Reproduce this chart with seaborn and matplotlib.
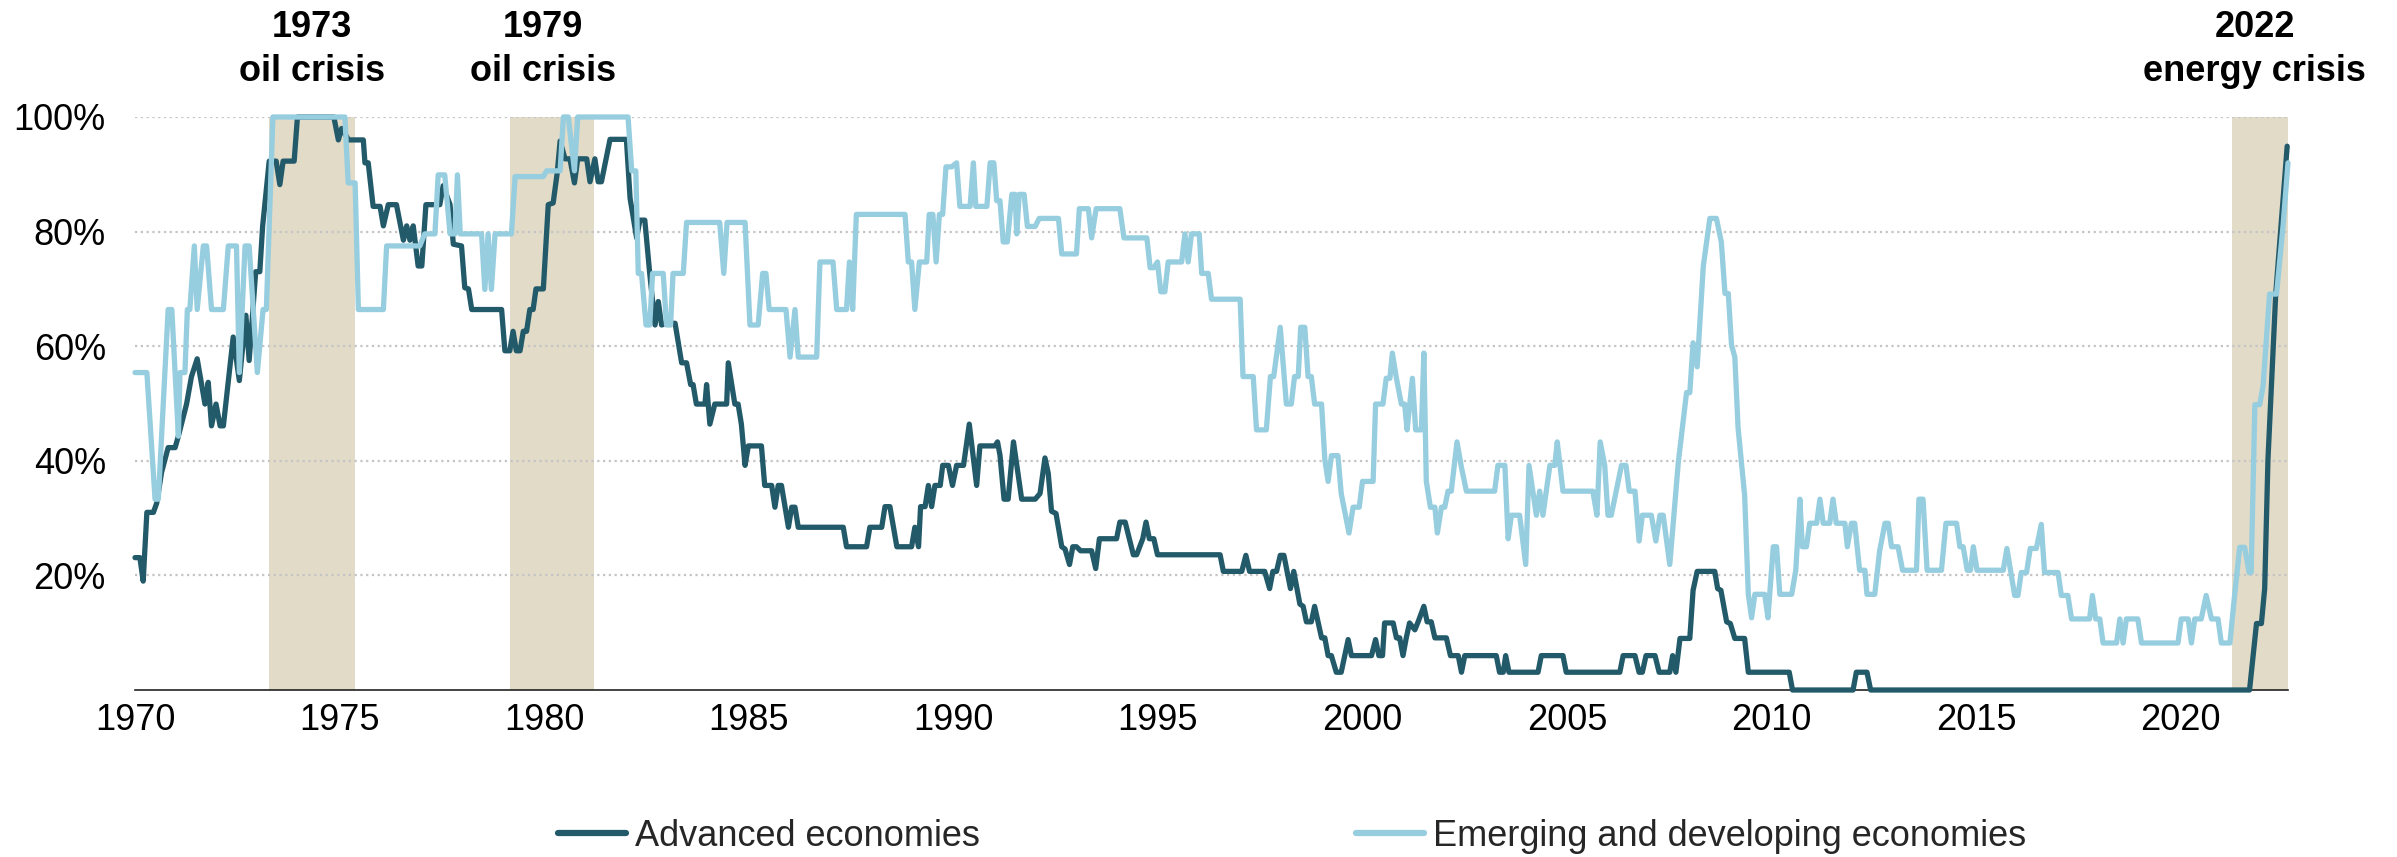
import matplotlib
matplotlib.use("Agg")
import matplotlib.pyplot as plt
import matplotlib.transforms as mtransforms
from matplotlib.lines import Line2D
import numpy as np
import pandas as pd
import seaborn as sns

# ---------------- data ----------------
adv_year = [1970.00, 1970.12, 1970.20, 1970.29, 1970.45, 1970.53, 1970.65, 1970.81, 1970.98, 1971.06,
            1971.26, 1971.38, 1971.52, 1971.71, 1971.79, 1971.87, 1971.98, 1972.08, 1972.16, 1972.40,
            1972.55, 1972.71, 1972.79, 1972.95, 1973.05, 1973.12, 1973.28, 1973.45, 1973.54, 1973.62,
            1973.89, 1973.97, 1974.86, 1974.97, 1975.05, 1975.22, 1975.58, 1975.62, 1975.70, 1975.82,
            1975.99, 1976.07, 1976.19, 1976.39, 1976.56, 1976.64, 1976.72, 1976.80, 1976.92, 1977.01,
            1977.11, 1977.45, 1977.53, 1977.70, 1977.78, 1977.98, 1978.06, 1978.15, 1978.23, 1978.96,
            1979.04, 1979.16, 1979.24, 1979.32, 1979.41, 1979.49, 1979.57, 1979.65, 1979.73, 1979.80,
            1979.98, 1980.10, 1980.22, 1980.32, 1980.39, 1980.51, 1980.63, 1980.74, 1980.82, 1981.04,
            1981.12, 1981.24, 1981.32, 1981.40, 1981.61, 1982.01, 1982.10, 1982.26, 1982.34, 1982.46,
            1982.58, 1982.71, 1982.79, 1982.87, 1982.99, 1983.20, 1983.36, 1983.48, 1983.58, 1983.64,
            1983.72, 1983.93, 1983.97, 1984.05, 1984.17, 1984.46, 1984.50, 1984.66, 1984.74, 1984.82,
            1984.91, 1984.99, 1985.31, 1985.39, 1985.56, 1985.64, 1985.72, 1985.80, 1985.97, 1986.05,
            1986.13, 1986.21, 1987.31, 1987.39, 1987.88, 1987.96, 1988.25, 1988.33, 1988.45, 1988.62,
            1988.98, 1989.06, 1989.15, 1989.20, 1989.31, 1989.39, 1989.47, 1989.55, 1989.68, 1989.74,
            1989.88, 1989.98, 1990.08, 1990.25, 1990.39, 1990.57, 1990.65, 1991.02, 1991.08, 1991.14,
            1991.24, 1991.34, 1991.47, 1991.67, 1992.00, 1992.12, 1992.24, 1992.32, 1992.40, 1992.51,
            1992.65, 1992.73, 1992.84, 1992.92, 1993.01, 1993.11, 1993.38, 1993.48, 1993.57, 1993.99,
            1994.07, 1994.20, 1994.40, 1994.48, 1994.63, 1994.71, 1994.79, 1994.90, 1994.99, 1996.52,
            1996.60, 1997.05, 1997.15, 1997.24, 1997.61, 1997.73, 1997.81, 1997.90, 1997.99, 1998.08,
            1998.24, 1998.32, 1998.47, 1998.55, 1998.63, 1998.75, 1998.83, 1999.00, 1999.08, 1999.16,
            1999.24, 1999.36, 1999.48, 1999.65, 1999.73, 2000.22, 2000.32, 2000.40, 2000.49, 2000.54,
            2000.75, 2000.83, 2000.91, 2000.99, 2001.07, 2001.15, 2001.28, 2001.36, 2001.50, 2001.58,
            2001.68, 2001.77, 2002.05, 2002.15, 2002.34, 2002.42, 2002.50, 2003.27, 2003.35, 2003.44,
            2003.50, 2003.58, 2004.29, 2004.37, 2004.90, 2004.98, 2006.29, 2006.37, 2006.66, 2006.76,
            2006.84, 2006.93, 2007.15, 2007.25, 2007.51, 2007.58, 2007.66, 2007.76, 2008.00, 2008.08,
            2008.18, 2008.61, 2008.68, 2008.76, 2008.90, 2008.99, 2009.10, 2009.34, 2009.43, 2010.43,
            2010.51, 2011.99, 2012.07, 2012.33, 2012.42, 2021.68, 2021.85, 2021.97, 2022.05, 2022.13,
            2022.32, 2022.60]
adv_val = [23.1, 23.1, 19.0, 31.0, 31.0, 32.6, 38.0, 42.3, 42.3, 44.3,
           49.9, 54.7, 57.8, 49.9, 53.7, 46.1, 49.9, 46.1, 46.1, 61.6,
           54.0, 65.4, 57.5, 73.0, 73.0, 81.0, 92.3, 92.3, 88.2, 92.3,
           92.3, 100.0, 100.0, 96.0, 98.0, 96.0, 96.0, 92.0, 92.0, 84.4,
           84.4, 81.0, 84.7, 84.7, 78.5, 81.0, 78.5, 81.0, 74.0, 74.0,
           84.7, 84.7, 88.0, 84.7, 77.8, 77.5, 70.2, 70.0, 66.4, 66.4,
           59.2, 59.2, 62.6, 59.2, 59.2, 62.6, 62.6, 66.4, 66.4, 70.0,
           70.0, 84.7, 85.0, 90.3, 95.8, 92.7, 92.7, 88.5, 92.7, 92.7,
           88.7, 92.7, 88.7, 88.7, 96.1, 96.1, 85.8, 78.9, 82.0, 82.0,
           72.7, 63.7, 67.8, 63.7, 64.0, 64.0, 57.1, 57.1, 53.3, 53.3,
           49.9, 49.9, 53.3, 46.4, 49.9, 49.9, 57.1, 49.9, 49.9, 46.4,
           39.2, 42.6, 42.6, 35.7, 35.7, 31.9, 35.7, 35.7, 28.4, 31.9,
           31.9, 28.4, 28.4, 25.0, 25.0, 28.4, 28.4, 32.0, 32.0, 25.0,
           25.0, 28.4, 25.0, 32.0, 32.0, 35.7, 32.0, 35.7, 35.7, 39.2,
           39.2, 35.7, 39.2, 39.2, 46.4, 35.7, 42.6, 42.6, 43.3, 41.0,
           33.3, 33.3, 43.3, 33.3, 33.3, 34.3, 40.5, 37.8, 31.2, 30.8,
           25.0, 24.6, 21.9, 25.0, 25.0, 24.3, 24.3, 21.2, 26.4, 26.4,
           29.3, 29.3, 23.6, 23.6, 26.4, 29.3, 26.4, 26.4, 23.6, 23.6,
           20.7, 20.7, 23.5, 20.7, 20.7, 17.7, 20.7, 20.7, 23.5, 23.5,
           17.7, 20.7, 15.0, 14.6, 11.9, 11.9, 14.6, 9.1, 9.1, 6.0,
           6.0, 3.1, 3.1, 8.8, 6.0, 6.0, 8.8, 6.0, 6.0, 11.7,
           11.7, 9.1, 9.1, 6.0, 9.1, 11.7, 10.5, 11.9, 14.6, 11.9,
           11.9, 9.1, 9.1, 6.0, 6.0, 3.1, 6.0, 6.0, 3.1, 3.1,
           6.0, 3.1, 3.1, 6.0, 6.0, 3.1, 3.1, 6.0, 6.0, 3.1,
           3.1, 6.0, 6.0, 3.1, 3.1, 6.0, 3.1, 9.0, 9.0, 17.4,
           20.7, 20.7, 17.7, 17.4, 11.9, 11.6, 9.0, 9.0, 3.1, 3.1,
           0.0, 0.0, 3.1, 3.1, 0.0, 0.0, 11.6, 11.6, 17.7, 40.2,
           69.1, 94.9]

emg_year = [1970.00, 1970.29, 1970.49, 1970.57, 1970.81, 1970.90, 1971.06, 1971.10, 1971.22, 1971.28,
            1971.34, 1971.45, 1971.52, 1971.67, 1971.75, 1971.87, 1972.16, 1972.28, 1972.48, 1972.55,
            1972.69, 1972.79, 1972.99, 1973.13, 1973.21, 1973.37, 1975.13, 1975.21, 1975.38, 1975.46,
            1976.07, 1976.15, 1976.96, 1977.08, 1977.33, 1977.41, 1977.57, 1977.70, 1977.82, 1977.88,
            1977.95, 1978.47, 1978.55, 1978.63, 1978.71, 1978.80, 1979.20, 1979.29, 1979.98, 1980.06,
            1980.39, 1980.47, 1980.59, 1980.74, 1980.82, 1982.05, 1982.14, 1982.24, 1982.30, 1982.38,
            1982.49, 1982.58, 1982.65, 1982.91, 1982.99, 1983.09, 1983.15, 1983.40, 1983.48, 1984.29,
            1984.39, 1984.47, 1984.91, 1985.03, 1985.23, 1985.34, 1985.42, 1985.50, 1985.91, 1986.01,
            1986.13, 1986.21, 1986.66, 1986.74, 1987.06, 1987.15, 1987.39, 1987.46, 1987.54, 1987.63,
            1988.82, 1988.90, 1988.98, 1989.06, 1989.17, 1989.35, 1989.41, 1989.50, 1989.58, 1989.66,
            1989.74, 1989.82, 1989.96, 1990.08, 1990.16, 1990.41, 1990.49, 1990.55, 1990.82, 1990.90,
            1990.99, 1991.06, 1991.14, 1991.22, 1991.32, 1991.43, 1991.51, 1991.55, 1991.61, 1991.73,
            1991.81, 1992.00, 1992.10, 1992.57, 1992.65, 1993.01, 1993.08, 1993.30, 1993.38, 1993.49,
            1994.07, 1994.17, 1994.73, 1994.81, 1994.90, 1994.99, 1995.07, 1995.17, 1995.25, 1995.58,
            1995.66, 1995.74, 1995.82, 1996.01, 1996.07, 1996.23, 1996.31, 1997.01, 1997.08, 1997.33,
            1997.41, 1997.65, 1997.75, 1997.83, 1997.99, 1998.14, 1998.26, 1998.34, 1998.43, 1998.49,
            1998.59, 1998.67, 1998.75, 1998.83, 1999.00, 1999.08, 1999.16, 1999.24, 1999.40, 1999.48,
            1999.67, 1999.77, 1999.92, 2000.00, 2000.26, 2000.32, 2000.50, 2000.58, 2000.67, 2000.73,
            2000.83, 2000.95, 2001.03, 2001.09, 2001.22, 2001.30, 2001.44, 2001.50, 2001.56, 2001.66,
            2001.77, 2001.83, 2001.93, 2002.01, 2002.09, 2002.17, 2002.31, 2002.42, 2002.54, 2003.23,
            2003.31, 2003.48, 2003.56, 2003.64, 2003.84, 2003.99, 2004.07, 2004.25, 2004.33, 2004.41,
            2004.58, 2004.70, 2004.76, 2004.90, 2005.63, 2005.73, 2005.81, 2005.92, 2006.00, 2006.08,
            2006.20, 2006.33, 2006.44, 2006.52, 2006.66, 2006.76, 2006.84, 2007.06, 2007.17, 2007.27,
            2007.35, 2007.51, 2007.72, 2007.92, 2008.00, 2008.08, 2008.18, 2008.33, 2008.49, 2008.65,
            2008.77, 2008.86, 2008.94, 2009.02, 2009.10, 2009.18, 2009.34, 2009.43, 2009.51, 2009.59,
            2009.83, 2009.91, 2010.04, 2010.12, 2010.20, 2010.49, 2010.59, 2010.69, 2010.75, 2010.85,
            2010.93, 2011.10, 2011.18, 2011.26, 2011.42, 2011.50, 2011.58, 2011.79, 2011.85, 2011.95,
            2012.03, 2012.15, 2012.28, 2012.33, 2012.52, 2012.64, 2012.77, 2012.85, 2012.93, 2013.09,
            2013.20, 2013.54, 2013.60, 2013.70, 2013.80, 2014.15, 2014.26, 2014.52, 2014.60, 2014.68,
            2014.78, 2014.86, 2014.93, 2015.02, 2015.66, 2015.75, 2015.94, 2016.02, 2016.10, 2016.23,
            2016.32, 2016.47, 2016.59, 2016.67, 2017.00, 2017.08, 2017.24, 2017.33, 2017.77, 2017.84,
            2017.92, 2018.02, 2018.10, 2018.43, 2018.51, 2018.59, 2018.67, 2018.95, 2019.04, 2019.93,
            2020.01, 2020.18, 2020.26, 2020.34, 2020.50, 2020.62, 2020.75, 2020.91, 2020.99, 2021.20,
            2021.32, 2021.44, 2021.56, 2021.67, 2021.72, 2021.81, 2021.93, 2022.01, 2022.09, 2022.17,
            2022.34, 2022.50, 2022.62]
emg_val = [55.4, 55.4, 33.3, 33.3, 66.4, 66.4, 44.3, 55.4, 55.4, 66.4,
           66.4, 77.5, 66.4, 77.5, 77.5, 66.4, 66.4, 77.5, 77.5, 55.4,
           77.5, 77.5, 55.4, 66.4, 66.4, 100.0, 100.0, 88.5, 88.5, 66.4,
           66.4, 77.5, 77.5, 79.6, 79.6, 89.9, 89.9, 79.6, 79.6, 89.9,
           79.6, 79.6, 69.9, 79.6, 69.9, 79.6, 79.6, 89.6, 89.6, 90.6,
           90.6, 100.0, 100.0, 90.6, 100.0, 100.0, 90.6, 90.6, 72.7, 72.7,
           63.7, 63.7, 72.7, 72.7, 63.7, 63.7, 72.7, 72.7, 81.6, 81.6,
           72.7, 81.6, 81.6, 63.7, 63.7, 72.7, 72.7, 66.4, 66.4, 58.1,
           66.4, 58.1, 58.1, 74.7, 74.7, 66.4, 66.4, 74.7, 66.4, 83.0,
           83.0, 74.7, 74.7, 66.4, 74.7, 74.7, 83.0, 83.0, 74.7, 83.0,
           83.0, 91.3, 91.3, 92.0, 84.4, 84.4, 92.0, 84.4, 84.4, 92.0,
           92.0, 85.4, 85.4, 78.2, 78.2, 86.5, 86.5, 79.6, 86.5, 86.5,
           80.9, 80.9, 82.3, 82.3, 76.1, 76.1, 84.0, 84.0, 78.9, 84.0,
           84.0, 78.9, 78.9, 73.7, 73.7, 74.7, 69.5, 69.5, 74.7, 74.7,
           79.6, 74.7, 79.6, 79.6, 72.7, 72.7, 68.2, 68.2, 54.7, 54.7,
           45.4, 45.4, 54.7, 54.7, 63.3, 49.9, 49.9, 54.7, 54.7, 63.3,
           63.3, 54.7, 54.7, 49.9, 49.9, 40.2, 36.4, 40.9, 40.9, 34.3,
           27.4, 31.9, 31.9, 36.4, 36.4, 49.9, 49.9, 54.4, 54.4, 58.8,
           54.4, 49.9, 49.9, 45.4, 54.4, 45.4, 45.4, 58.8, 36.4, 31.9,
           31.9, 27.4, 31.9, 31.9, 34.7, 34.7, 43.3, 38.8, 34.7, 34.7,
           39.2, 39.2, 26.4, 30.5, 30.5, 21.9, 39.2, 30.5, 34.7, 30.5,
           39.2, 39.2, 43.3, 34.7, 34.7, 30.5, 43.3, 39.2, 30.5, 30.5,
           34.7, 39.2, 39.2, 34.7, 34.7, 26.0, 30.5, 30.5, 26.0, 30.5,
           30.5, 21.9, 39.8, 51.9, 51.9, 60.6, 56.4, 74.0, 82.3, 82.3,
           78.2, 69.2, 69.2, 60.2, 58.1, 45.7, 34.0, 16.7, 12.6, 16.7,
           16.7, 12.6, 25.0, 25.0, 16.7, 16.7, 20.9, 33.3, 25.0, 25.0,
           29.1, 29.1, 33.3, 29.1, 29.1, 33.3, 29.1, 29.1, 25.0, 29.1,
           29.1, 20.9, 20.9, 16.7, 16.7, 24.3, 29.1, 29.1, 25.0, 25.0,
           20.9, 20.9, 33.3, 33.3, 20.9, 20.9, 29.1, 29.1, 25.0, 25.0,
           20.9, 20.9, 25.0, 20.9, 20.9, 24.7, 16.5, 16.5, 20.5, 20.5,
           24.7, 24.7, 28.9, 20.5, 20.5, 16.5, 16.5, 12.4, 12.4, 16.5,
           12.4, 12.4, 8.2, 8.2, 12.4, 8.2, 12.4, 12.4, 8.2, 8.2,
           12.4, 12.4, 8.2, 12.4, 12.4, 16.5, 12.4, 12.4, 8.2, 8.2,
           16.9, 24.9, 24.9, 20.5, 20.5, 49.8, 49.8, 53.0, 61.0, 69.1,
           69.1, 81.1, 92.0]

crisis_start = [1973.28, 1979.17, 2021.25]
crisis_end = [1975.37, 1981.23, 2022.62]
crisis_year_labels = ["1973", "1979", "2022"]
crisis_name_labels = ["oil crisis", "oil crisis", "energy crisis"]
crisis_label_x = [1974.33, 1979.97, 2021.81]

x_ticks = [1970, 1975, 1980, 1985, 1990, 1995, 2000, 2005, 2010, 2015, 2020]
y_ticks = [20, 40, 60, 80, 100]
y_tick_labels = ["20%", "40%", "60%", "80%", "100%"]
series_names = ["Advanced economies", "Emerging and developing economies"]

# ---------------- style ----------------
DARK = "#225a6a"
LIGHT = "#96cddf"
SHADE = "#e1dbc8"
GRID = "#c4c4c4"

sns.set_theme(style="white")
plt.rcParams["font.family"] = ["Liberation Sans", "DejaVu Sans"]

W, H, DPI = 2397, 857, 100
fig = plt.figure(figsize=(W / DPI, H / DPI), dpi=DPI)
ax = fig.add_axes([135 / W, 1 - 690 / H, (2288 - 135) / W, (690 - 117) / H])

for s, e in zip(crisis_start, crisis_end):
    ax.axvspan(s, e, ymin=0, ymax=1, color=SHADE, lw=0, zorder=0.5)

df_adv = pd.DataFrame({"year": adv_year, "value": adv_val})
df_emg = pd.DataFrame({"year": emg_year, "value": emg_val})

lw = 3.8
sns.lineplot(data=df_adv, x="year", y="value", ax=ax, color=DARK, lw=lw,
             estimator=None, sort=False, zorder=3, clip_on=False)
sns.lineplot(data=df_emg, x="year", y="value", ax=ax, color=LIGHT, lw=lw,
             estimator=None, sort=False, zorder=4, clip_on=False)

ax.set_xlim(1970, 2022.62)
ax.set_ylim(0, 100)
ax.set_xticks(x_ticks)
ax.set_xticklabels([str(t) for t in x_ticks])
ax.set_yticks(y_ticks)
ax.set_yticklabels(y_tick_labels)
ax.set_xlabel("")
ax.set_ylabel("")

ax.yaxis.grid(True, color=GRID, linestyle=(0, (1, 1.6)), linewidth=1.6, zorder=1)
ax.xaxis.grid(False)
for gl in ax.get_ygridlines():
    gl.set_zorder(1)

for side in ["top", "right", "left"]:
    ax.spines[side].set_visible(False)
ax.spines["bottom"].set_color("#222222")
ax.spines["bottom"].set_linewidth(1.2)
ax.spines["bottom"].set_zorder(2)

ax.tick_params(axis="both", length=0, labelsize=26, colors="black")
ax.tick_params(axis="y", pad=21)
ax.tick_params(axis="x", pad=9)

# crisis labels
trans = mtransforms.blended_transform_factory(ax.transData, fig.transFigure)
for x, yl, nl in zip(crisis_label_x, crisis_year_labels, crisis_name_labels):
    ax.text(x, 1 - 37 / H, yl, transform=trans, ha="center", va="baseline",
            fontsize=26, fontweight="bold", color="black")
    ax.text(x, 1 - 81 / H, nl, transform=trans, ha="center", va="baseline",
            fontsize=26, fontweight="bold", color="black")

leg = ax.get_legend()
if leg is not None:
    leg.remove()
handles = [Line2D([0], [0], color=DARK, lw=4.5, solid_capstyle="round"),
           Line2D([0], [0], color=LIGHT, lw=4.5, solid_capstyle="round")]
fig.legend(handles, series_names, loc="center", bbox_to_anchor=(1292 / W, 1 - 836 / H),
           ncol=2, frameon=False, fontsize=26, handlelength=1.9, handletextpad=0.25,
           columnspacing=10.4, borderpad=0, borderaxespad=0)

fig.savefig("out.png", dpi=DPI)
